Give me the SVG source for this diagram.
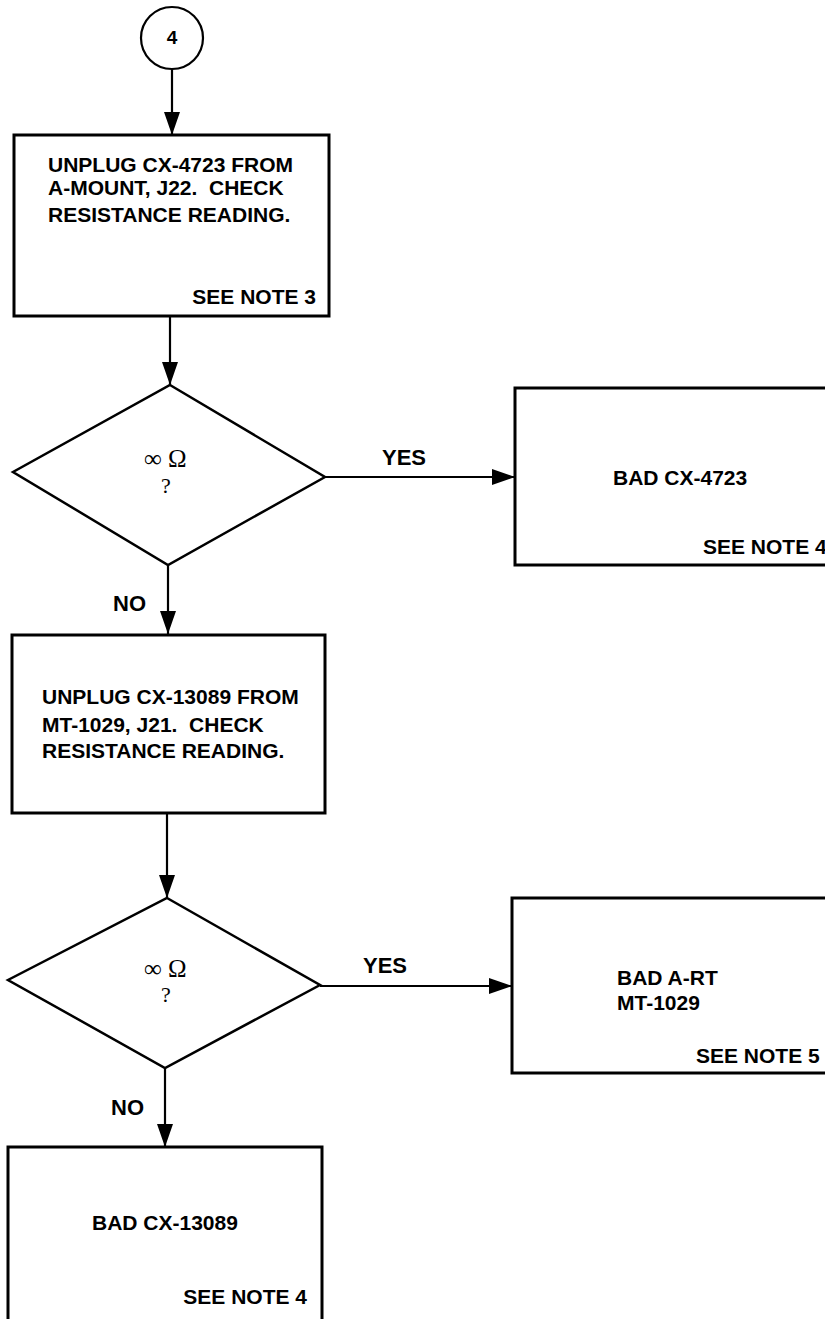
<svg xmlns="http://www.w3.org/2000/svg" width="825" height="1319" viewBox="0 0 825 1319">
<defs>
<marker id="arr" viewBox="0 0 23 16" refX="23" refY="8" markerWidth="23" markerHeight="16" orient="auto" markerUnits="userSpaceOnUse">
<path d="M0,0 L23,8 L0,16 Z" fill="#000"/>
</marker>
</defs>
<style>
.box{fill:#fff;stroke:#000;stroke-width:3}
.dia{fill:#fff;stroke:#000;stroke-width:2.5;stroke-linejoin:miter}
.con{fill:none;stroke:#000;stroke-width:2.2;marker-end:url(#arr)}
.t{font-family:"Liberation Sans",Arial,sans-serif;font-weight:bold;font-size:21px;fill:#000}
.lbl{font-family:"Liberation Sans",Arial,sans-serif;font-weight:bold;font-size:22px;fill:#000}
.sym{font-family:"Liberation Serif","Times New Roman",serif;font-size:25px;fill:#000}
.q{font-family:"Liberation Serif","Times New Roman",serif;font-size:22px;fill:#000}
.n{font-family:"Liberation Sans",Arial,sans-serif;font-weight:bold;font-size:19px;fill:#000}
</style>
<rect width="825" height="1319" fill="#fff"/>

<g id="connectors">
<line class="con" x1="172" y1="69" x2="172" y2="135"/>
<line class="con" x1="170" y1="316" x2="170" y2="385"/>
<line class="con" x1="325" y1="477" x2="515" y2="477"/>
<line class="con" x1="168" y1="565" x2="168" y2="634"/>
<line class="con" x1="167" y1="813" x2="167" y2="898"/>
<line class="con" x1="320" y1="986" x2="512" y2="986"/>
<line class="con" x1="165" y1="1068" x2="165" y2="1147"/>
<text class="lbl" x="382" y="465">YES</text>
<text class="lbl" x="113" y="611">NO</text>
<text class="lbl" x="363" y="973">YES</text>
<text class="lbl" x="111" y="1115">NO</text>
</g>

<g id="start4">
<circle cx="172" cy="38" r="31" fill="#fff" stroke="#000" stroke-width="2.2"/>
<text class="n" x="172" y="44" text-anchor="middle">4</text>
</g>

<g id="step1">
<rect class="box" x="14" y="135" width="315" height="181"/>
<text class="t" x="48" y="172">UNPLUG CX-4723 FROM</text>
<text class="t" x="48" y="195" xml:space="preserve">A-MOUNT, J22.  CHECK</text>
<text class="t" x="48" y="222">RESISTANCE READING.</text>
<text class="t" x="316" y="304" text-anchor="end">SEE NOTE 3</text>
</g>

<g id="decision1">
<polygon class="dia" points="170,385 325,477 168,565 13,472"/>
<text class="sym" y="467"><tspan x="144">∞</tspan><tspan x="168">Ω</tspan></text>
<text class="q" x="166" y="493" text-anchor="middle">?</text>
</g>

<g id="bad4723">
<rect class="box" x="515" y="388" width="330" height="177"/>
<text class="t" x="613" y="485">BAD CX-4723</text>
<text class="t" x="703" y="554">SEE NOTE 4</text>
</g>

<g id="step2">
<rect class="box" x="12" y="635" width="313" height="178"/>
<text class="t" x="42" y="704">UNPLUG CX-13089 FROM</text>
<text class="t" x="42" y="732" xml:space="preserve">MT-1029, J21.  CHECK</text>
<text class="t" x="42" y="758">RESISTANCE READING.</text>
</g>

<g id="decision2">
<polygon class="dia" points="167,898 320,985 165,1068 8,980"/>
<text class="sym" y="977"><tspan x="144">∞</tspan><tspan x="168">Ω</tspan></text>
<text class="q" x="166" y="1002" text-anchor="middle">?</text>
</g>

<g id="badart">
<rect class="box" x="512" y="898" width="330" height="175"/>
<text class="t" x="617" y="985">BAD A-RT</text>
<text class="t" x="617" y="1010">MT-1029</text>
<text class="t" x="696" y="1063">SEE NOTE 5</text>
</g>

<g id="bad13089">
<rect class="box" x="8" y="1147" width="314" height="190"/>
<text class="t" x="92" y="1230">BAD CX-13089</text>
<text class="t" x="307" y="1304" text-anchor="end">SEE NOTE 4</text>
</g>
</svg>
